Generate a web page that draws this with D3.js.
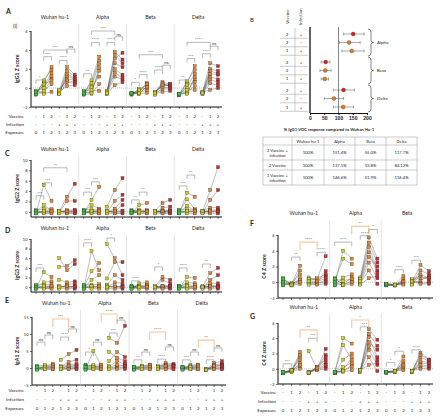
<!DOCTYPE html>
<html><head><meta charset="utf-8">
<script src="https://cdn.jsdelivr.net/npm/d3@7"></script>
<style>body{margin:0;background:#fff}svg{display:block;font-family:Lato,"Liberation Sans",Arial,sans-serif}</style>
</head><body><svg id="c" width="440" height="419"></svg>
<script>
// ---------- shared categories ----------
const variants = ["Wuhan hu-1","Alpha","Beta","Delta"];
const vaccineRow = ["-","1","2","-","1","2"];
const infectionRow = ["-","-","-","+","+","+"];
const exposureRow = ["0","1","2","1","2","3"];
const rowNames = ["Vaccine","Infection","Exposure"];

// ---------- A: IgG1 Z score (per variant, 6 groups) ----------
const igg1Values = [
 [[-0.6,-0.5,-0.4,-0.5,-0.7,-0.3,-0.6,-0.4],[-0.5,0.6,0.2,-0.3,0.8,-0.6,0.4,0.0],[1.0,2.2,1.6,0.4,1.9,-0.4,0.8,1.3],
  [-0.5,-0.4,-0.6,-0.3,-0.5,-0.4,-0.6,-0.2],[1.0,1.8,0.6,2.2,1.3,0.2,1.5,0.8],[0.8,1.2,0.5,1.4,0.9,0.3,1.0,0.6]],
 [[-0.5,-0.6,-0.4,-0.7,-0.5,-0.3,-0.6,-0.5],[-0.4,0.8,0.2,-0.6,0.5,-0.2,0.1,-0.5],[1.8,3.3,2.5,0.4,2.9,-0.3,1.2,2.1],
  [-0.5,-0.4,-0.6,-0.5,-0.3,-0.6,-0.4,-0.5],[2.0,3.8,1.2,3.1,2.6,0.3,1.6,3.5],[1.4,3.0,0.9,3.7,2.2,0.6,1.1,2.6]],
 [[-0.6,-0.5,-0.6,-0.7,-0.5,-0.6,-0.6,-0.5],[-0.6,-0.3,-0.5,-0.1,-0.6,-0.4,-0.2,-0.5],[0.2,0.5,-0.2,0.3,-0.5,0.4,0.0,0.1],
  [-0.6,-0.5,-0.6,-0.4,-0.6,-0.5,-0.7,-0.5],[0.4,0.6,-0.1,0.2,-0.4,0.5,0.1,0.3],[0.2,0.4,-0.1,0.3,-0.3,0.1,0.0,0.4]],
 [[-0.7,-0.6,-0.7,-0.6,-0.7,-0.6,-0.7,-0.6],[-0.5,0.5,0.1,-0.4,0.7,-0.2,0.3,-0.6],[0.9,2.3,1.5,0.2,1.9,-0.2,0.6,1.2],
  [-0.5,-0.4,-0.6,-0.5,-0.5,-0.4,-0.6,-0.5],[1.2,2.6,0.5,2.0,1.5,-0.2,0.9,1.8],[0.9,2.3,0.3,1.8,1.4,0.0,0.6,1.5]]
];
const igg1Brackets = [
 [0,0,1,0.84,"*",0],[0,1,2,3.3,"***",0],[0,1,4,4.0,"***",0],[0,3,4,2.9,"****",0],[0,4,5,4.1,"ns",0],
 [1,0,1,1.5,"**",0],[1,1,2,4.8,"****",0],[1,1,4,6.0,"***",0],[1,3,4,4.8,"****",0],[1,4,5,5.4,"ns",0],
 [2,0,1,0.6,"*",0],[2,1,2,1.4,"****",0],[2,1,4,3.5,"***",0],[2,3,4,1.9,"****",0],[2,4,5,2.4,"ns",0],
 [3,0,1,0.84,"**",0],[3,1,2,3.1,"***",0],[3,1,4,4.8,"****",0],[3,3,4,3.6,"****",0],[3,4,5,4.4,"ns",0]
];

// ---------- C: IgG2 ----------
const igg2Values = [
 [[0.2,-0.3,0.0,-0.2,0.3,-0.1,0.1,-0.3],[0.0,5.2,1.3,-0.2,0.6,0.1,-0.3,0.2],[0.0,2.1,0.3,-0.2,0.5,0.1,-0.3,0.2],
  [0.0,0.1,-0.2,0.2,-0.1,0.0,-0.3,0.1],[0.1,2.9,2.1,-0.2,0.3,0.0,-0.3,0.2],[0.2,5.4,2.1,-0.2,0.4,0.0,-0.3,0.1]],
 [[0.2,-0.3,0.0,-0.2,0.4,-0.1,0.1,-0.3],[0.0,2.3,1.3,-0.2,0.5,0.1,-0.3,0.2],[0.1,4.8,0.6,-0.2,0.3,0.0,-0.3,0.2],
  [0.0,1.0,-0.2,0.2,-0.1,0.0,-0.3,0.1],[0.1,4.2,2.1,-0.2,0.6,0.0,-0.3,0.1],[0.2,6.5,3.3,-0.2,2.3,1.3,-0.3,0.1]],
 [[0.1,-0.3,0.0,-0.2,0.3,-0.1,0.1,-0.3],[0.0,1.3,0.4,-0.2,0.2,0.1,-0.3,0.0],[0.1,1.7,0.3,-0.2,0.2,0.0,-0.3,0.1],
  [0.0,0.1,-0.2,0.2,-0.1,0.0,-0.3,0.1],[0.1,1.7,0.8,-0.2,0.2,0.0,-0.3,0.1],[0.1,2.3,1.0,-0.2,0.3,0.0,-0.3,0.2]],
 [[0.2,-0.3,0.0,-0.2,0.4,-0.1,0.1,-0.3],[0.0,3.7,2.4,1.2,0.5,0.1,-0.3,0.2],[0.1,2.9,0.5,0.2,0.3,0.0,-0.3,0.1],
  [0.0,0.1,-0.2,0.2,-0.1,0.0,-0.3,0.1],[0.1,4.2,2.3,0.8,0.3,0.0,-0.3,0.1],[0.2,8.6,4.2,0.8,0.4,0.0,-0.3,0.1]]
];
const igg2Brackets = [
 [0,0,1,3.1,"***",0],[0,1,2,5.6,"***",0],[0,1,4,8.5,"**",0],[1,0,1,3.8,"***",0],[1,1,2,5.8,"***",0],
 [2,0,1,2.3,"**",0],[2,1,2,3.8,"**",0],[3,0,1,5.0,"***",0],[3,1,2,7.1,"**",0]
];

// ---------- D: IgG3 ----------
const igg3Values = [
 [[0.3,-0.3,0.0,-0.2,0.5,-0.1,0.1,-0.3],[0.0,3.1,1.0,-0.2,0.5,0.1,-0.3,0.2],[0.1,2.1,1.2,-0.2,0.6,0.0,-0.3,0.2],
  [0.0,6.0,4.2,1.5,-0.1,0.3,-0.3,0.1],[0.1,3.5,4.4,1.0,0.5,0.0,-0.3,0.2],[0.2,4.8,5.6,1.2,0.8,0.0,-0.3,0.1]],
 [[0.3,-0.3,0.0,-0.2,0.5,-0.1,0.1,-0.3],[0.0,7.5,3.3,1.5,0.5,0.1,-0.3,0.2],[0.1,3.5,5.0,2.5,0.6,0.0,-0.3,0.2],
  [0.0,8.9,1.8,0.5,-0.1,0.3,-0.3,0.1],[0.1,6.0,5.2,2.5,1.0,0.0,-0.3,0.2],[0.2,2.5,5.2,1.5,0.8,0.0,-0.3,0.1]],
 [[0.2,-0.3,0.0,-0.2,0.3,-0.1,0.1,-0.3],[0.0,0.8,0.3,-0.2,0.2,0.1,-0.3,0.0],[0.1,1.0,0.5,-0.2,0.2,0.0,-0.3,0.1],
  [0.0,0.1,-0.2,0.2,-0.1,0.0,-0.3,0.1],[0.1,2.1,1.5,-0.2,0.3,0.0,-0.3,0.2],[0.1,1.5,0.8,-0.2,0.3,0.0,-0.3,0.2]],
 [[0.2,-0.3,0.0,-0.2,0.3,-0.1,0.1,-0.3],[0.0,2.1,1.0,-0.2,0.5,0.1,-0.3,0.2],[0.1,1.9,0.8,-0.2,0.4,0.0,-0.3,0.1],
  [0.0,0.1,-0.2,0.2,-0.1,0.0,-0.3,0.1],[0.1,2.9,1.5,0.8,0.3,0.0,-0.3,0.2],[0.2,4.0,2.5,0.8,0.3,0.0,-0.3,0.1]]
];
const igg3Brackets = [
 [0,0,1,4.0,"***",0],[1,0,1,9.2,"****",0],[1,3,4,10.2,"*",0],[2,0,1,1.3,"****",0],[2,3,4,4.2,"*",0],
 [3,0,1,4.0,"****",0],[3,3,4,4.8,"**",0]
];

// ---------- E: IgA1 ----------
const iga1Values = [
 [[0.3,-0.4,0.0,-0.3,0.6,-0.1,0.2,-0.5],[0.2,0.5,0.0,-0.3,0.8,-0.1,0.3,-0.4],[0.5,1.2,0.2,-0.3,0.8,0.0,0.4,-0.4],
  [0.0,2.4,0.3,-0.3,0.5,-0.1,0.2,-0.4],[0.4,4.1,1.8,-0.2,1.0,0.0,0.6,-0.3],[0.8,5.3,2.4,-0.2,1.2,0.2,0.5,-0.3]],
 [[0.5,-0.4,1.0,-0.3,0.6,-0.1,0.2,-0.5],[0.2,5.0,0.5,-0.3,0.8,-0.1,0.3,-0.4],[0.5,0.8,0.2,-0.3,1.0,0.0,0.4,-0.4],
  [0.0,8.8,4.7,2.0,0.5,-0.1,0.2,-0.4],[0.4,7.4,3.0,4.7,2.0,0.0,1.0,-0.3],[0.8,12.4,2.0,3.2,1.2,0.2,0.5,-0.3]],
 [[0.2,-0.4,0.0,-0.3,0.4,-0.1,0.2,-0.5],[0.2,0.5,0.0,-0.3,0.6,-0.1,0.3,-0.4],[0.5,1.0,0.2,-0.3,0.8,0.0,0.4,-0.4],
  [0.0,0.4,0.3,-0.3,0.5,-0.1,0.2,-0.4],[0.4,1.5,1.0,-0.2,0.8,0.0,0.6,-0.3],[0.6,1.2,0.8,-0.2,0.9,0.2,0.5,-0.3]],
 [[0.2,-0.4,0.0,-0.3,0.4,-0.1,0.2,-0.5],[0.2,0.8,0.0,-0.3,0.6,-0.1,0.3,-0.4],[0.5,1.0,0.2,-0.3,0.8,0.0,0.4,-0.4],
  [-0.5,-0.4,-0.6,-0.3,-0.5,-0.4,-0.6,-0.5],[0.4,1.5,1.0,-0.2,0.8,0.0,0.6,-0.3],[0.8,2.0,1.2,-0.2,0.9,0.2,0.5,-0.3]]
];
const iga1Brackets = [
 [0,0,1,7.6,"ns",0],[0,1,2,9.7,"ns",0],[0,2,4,14.4,"***",1],[0,3,4,9.1,"****",0],[0,4,5,11.5,"ns",0],
 [1,0,1,4.7,"*",0],[1,1,2,7.6,"ns",0],[1,2,4,15.9,"****",1],[1,3,4,10.3,"***",0],[1,4,5,14.1,"ns",0],
 [2,0,1,2.4,"**",0],[2,1,2,4.7,"ns",0],[2,2,4,10.6,"****",1],[2,3,4,2.6,"****",0],[2,4,5,6.2,"ns",0],
 [3,0,1,2.4,"***",0],[3,1,2,4.7,"ns",0],[3,2,4,8.2,"**",1],[3,3,4,2.4,"****",0],[3,4,5,5.9,"ns",0]
];

// ---------- F: C4 Z score ----------
const c4FValues = [
 [[0.5,-0.2,0.2,-0.4,0.3,0.0,0.4,-0.3],[-0.3,-0.2,-0.4,-0.1,-0.3,-0.4,-0.2,-0.3],[0.2,2.1,1.5,1.0,0.5,-0.2,0.3,0.0],
  [0.6,0.3,0.0,-0.2,0.4,-0.1,0.2,-0.3],[0.2,0.4,0.0,-0.2,0.5,-0.1,0.1,-0.3],[0.8,3.3,1.4,0.3,1.0,0.0,0.5,-0.2]],
 [[0.5,-0.2,0.2,-0.4,0.3,0.0,0.4,-0.3],[-0.3,4.0,3.0,0.6,-0.2,-0.4,0.2,-0.3],[0.2,3.0,2.3,1.0,0.6,-0.2,0.4,0.0],
  [0.6,0.3,0.0,-0.2,0.4,-0.1,0.2,-0.3],[5.7,4.5,3.2,2.5,5.0,1.5,3.8,0.5],[3.0,1.5,2.0,0.5,2.5,-0.2,1.2,0.8]],
 [[-0.3,-0.2,-0.4,-0.3,-0.2,-0.4,-0.3,-0.2],[-0.4,-0.3,-0.4,-0.3,-0.4,-0.3,-0.4,-0.3],[0.0,0.8,0.4,-0.2,0.2,-0.1,0.1,-0.3],
  [0.3,0.0,-0.2,0.4,-0.1,0.2,-0.3,0.1],[0.5,2.2,1.5,0.8,0.2,-0.1,1.0,-0.2],[0.6,1.4,1.0,0.3,0.8,0.0,0.5,-0.2]]
];
const c4FBrackets = [
 [0,1,2,3.2,"**",0],[0,2,4,5.1,"****",1],[0,4,5,3.8,"****",0],
 [1,0,2,5.1,"****",0],[1,2,4,7.1,"**",1],[1,3,4,5.9,"****",0],[1,4,5,6.7,"*",0],
 [2,1,2,1.6,"****",0],[2,3,4,2.8,"***",0]
];

// ---------- G: C4 Z score ----------
const c4GValues = [
 [[-0.5,-0.5,-0.6,-0.4,-0.5,-0.6,-0.5,-0.4],[-0.3,-0.2,-0.4,-0.3,-0.2,-0.4,-0.3,-0.2],[2.2,1.5,0.8,0.3,1.2,0.0,1.8,0.5],
  [-0.5,2.3,-0.4,-0.5,-0.6,-0.4,-0.5,-0.5],[0.2,0.0,0.1,-0.1,0.2,-0.2,0.0,0.1],[1.2,2.6,0.8,0.3,1.8,0.0,0.5,1.5]],
 [[-0.5,-0.4,-0.6,-0.4,-0.5,-0.6,-0.5,-0.4],[4.0,3.1,1.2,-0.3,-0.2,-0.4,0.2,-0.3],[3.3,1.2,2.0,0.5,1.5,-0.2,0.8,0.3],
  [-0.3,-0.3,-0.4,-0.3,-0.2,-0.4,-0.3,-0.2],[5.2,4.2,3.5,2.5,4.6,1.5,3.0,0.5],[3.8,1.5,2.5,0.5,3.0,-0.3,1.2,0.8]],
 [[-0.5,-0.4,-0.5,-0.4,-0.5,-0.4,-0.5,-0.4],[-0.4,-0.3,-0.4,-0.3,-0.4,-0.3,-0.4,-0.3],[1.6,0.8,0.4,0.0,1.0,-0.2,0.3,0.5],
  [-0.4,-0.3,-0.4,-0.3,-0.4,-0.3,-0.4,-0.3],[2.1,1.5,0.8,0.3,1.8,0.0,1.0,0.5],[1.2,1.0,0.6,0.2,1.2,0.0,0.8,0.4]]
];
const c4GBrackets = [
 [0,0,1,0.65,"***",0],[0,2,4,5.1,"**",1],[0,3,4,4.0,"***",0],
 [1,2,4,6.4,"*",1],[1,3,4,5.5,"***",0],
 [2,0,1,0.8,"*",0],[2,1,2,2.3,"*",0],[2,3,4,2.5,"****",0]
];

// ---------- B: forest plot + table ----------
const forestVaccine = ["2","2","1","2","2","1","2","2","1"];
const forestInfection = ["+","-","+","+","-","+","+","-","+"];
const forestMean = [151.4,137.1,146.6,55.0,53.8,51.9,117.7,84.1,116.4];
const forestLow = [118,104,112,39,35,39,82,50,82];
const forestHigh = [190,176,190,70,74,65,156,118,153];
const forestGroups = ["Alpha","Beta","Delta"];
const forestTicks = [0,50,100,150,200];
const tableHeader = ["","Wuhan hu-1","Alpha","Beta","Delta"];
const tableRowLabels = [["2 Vaccine +","infection"],["2 Vaccine"],["1 Vaccine +","infection"]];
const tableValues = [["100%","151.4%","55.0%","117.7%"],["100%","137.1%","53.8%","84.12%"],["100%","146.6%","51.9%","116.4%"]];

// ================= drawing =================
const svg = d3.select("#c");
const fillOf = {"0":"#3cc83c","1":"#d2d21e","2":"#e8862c","3":"#d22828"};

function dotPanel(p){
  const g = svg.append("g");
  const y = d3.scaleLinear().domain(p.domain).range(p.yRange);
  const nSub = p.data.length;
  const w = (p.x1 - p.x0) / nSub;
  const yB = p.yRange[0], yT = p.yRange[1];
  // zero line
  g.append("line").attr("x1",p.x0).attr("x2",p.x1).attr("y1",y(0)).attr("y2",y(0))
    .attr("stroke","#888").attr("stroke-width",0.5).attr("stroke-dasharray","1,1");
  // y axis
  const ax = g.append("g").attr("transform",`translate(${p.x0},0)`)
    .call(d3.axisLeft(y).tickValues(p.ticks).tickSize(2).tickPadding(1.5));
  ax.select(".domain").attr("stroke","#111").attr("stroke-width",1).attr("d",`M0,${yT}V${yB}`);
  ax.selectAll(".tick line").attr("stroke","#111").attr("stroke-width",0.6);
  ax.selectAll("text").attr("font-size",4).attr("fill","#222").attr("font-family","Lato, sans-serif");
  // bottom axis
  g.append("line").attr("x1",p.x0).attr("x2",p.x1).attr("y1",yB).attr("y2",yB).attr("stroke","#111").attr("stroke-width",1);
  // y label
  g.append("text").attr("transform",`translate(${p.yLabelX},${(yT+yB)/2}) rotate(-90)`)
    .attr("text-anchor","middle").attr("font-size",5.2).attr("font-weight","bold").attr("fill","#222").text(p.yLabel);
  // letter
  g.append("text").attr("x",p.letter[0]).attr("y",p.letter[1]).attr("font-size",7).attr("font-weight","bold").attr("fill","#222").text(p.letter[2]);

  p.data.forEach((cols, si) => {
    const s0 = p.x0 + si*w;
    const xs = d3.scalePoint().domain(d3.range(6)).range([s0+5, s0+w-4]);
    // title
    g.append("text").attr("x",s0+w/2).attr("y",p.titleY).attr("text-anchor","middle")
      .attr("font-size",5.2).attr("fill","#222").text(variants[si]);
    if (si>0) g.append("line").attr("x1",s0).attr("x2",s0).attr("y1",p.titleY+5).attr("y2",yB)
      .attr("stroke","#d0d0d0").attr("stroke-width",0.6);
    // x ticks
    d3.range(6).forEach(c => g.append("line").attr("x1",xs(c)).attr("x2",xs(c)).attr("y1",yB).attr("y2",yB+2)
      .attr("stroke","#111").attr("stroke-width",0.6));
    // paired lines
    [0,3].forEach(t => {
      cols[t].forEach((v,i) => {
        const pts = [t,t+1,t+2].map(c => [xs(c), y(cols[c][i])]);
        g.append("path").attr("d", d3.line()(pts)).attr("fill","none")
          .attr("stroke","#444").attr("stroke-width",0.45).attr("stroke-opacity",0.8);
      });
    });
    // points
    cols.forEach((vals,c) => {
      vals.forEach(v => {
        g.append("rect").attr("x",xs(c)-1.5).attr("y",y(v)-1.5).attr("width",3).attr("height",3)
          .attr("fill",fillOf[exposureRow[c]]).attr("stroke","#333").attr("stroke-width",0.35);
      });
    });
    // brackets
    p.brackets.filter(b => b[0]===si).forEach(b => {
      const xa = xs(b[1]), xb = xs(b[2]), yy = y(b[3]);
      const orange = b[5]===1;
      const leg = orange ? 8 : 4;
      g.append("path").attr("d",`M${xa},${yy+leg}V${yy}H${xb}V${yy+leg}`).attr("fill","none")
        .attr("stroke", orange ? "#f5c8a0" : "#8a8a8a").attr("stroke-width", orange ? 1.1 : 0.6);
      g.append("text").attr("x",(xa+xb)/2).attr("y",yy-1).attr("text-anchor","middle")
        .attr("font-size",4.3).attr("fill","#222").text(b[4]);
    });
    // rows
    if (p.rowsY) {
      [vaccineRow, infectionRow, exposureRow].forEach((row, r) => {
        row.forEach((t,c) => g.append("text").attr("x",xs(c)).attr("y",p.rowsY[r]).attr("text-anchor","middle")
          .attr("font-size",4.3).attr("fill","#222").text(t));
      });
    }
  });
  if (p.rowsY) rowNames.forEach((n,r) => g.append("text").attr("x",p.rowLabelX).attr("y",p.rowsY[r])
      .attr("text-anchor","end").attr("font-size",4.6).attr("fill","#222").text(n));
}

dotPanel({data:igg1Values, brackets:igg1Brackets, x0:31, x1:222, domain:[-2,6], yRange:[107,31], ticks:[-2,0,2,4,6],
  titleY:19, yLabel:"IgG1 Z score", yLabelX:19, letter:[6,14,"A"], rowsY:[118,126,134], rowLabelX:24});
svg.append("text").attr("x",13).attr("y",28).attr("font-size",5.5).attr("fill","#222").text("(i)");
dotPanel({data:igg2Values, brackets:igg2Brackets, x0:31, x1:222, domain:[-1,10], yRange:[217,160], ticks:[0,2,4,6,8,10],
  titleY:151, yLabel:"IgG2 Z score", yLabelX:19, letter:[5,156,"C"]});
dotPanel({data:igg3Values, brackets:igg3Brackets, x0:31, x1:222, domain:[-1,10], yRange:[292,239], ticks:[0,2,4,6,8,10],
  titleY:230, yLabel:"IgG3 Z score", yLabelX:19, letter:[5,233,"D"]});
dotPanel({data:iga1Values, brackets:iga1Brackets, x0:32, x1:226, domain:[-5,15], yRange:[385,317], ticks:[-5,0,5,10,15],
  titleY:305, yLabel:"IgA1 Z score", yLabelX:19, letter:[5,303,"E"], rowsY:[392,401,410], rowLabelX:24});
dotPanel({data:c4FValues, brackets:c4FBrackets, x0:278, x1:433, domain:[-2,6], yRange:[298,235], ticks:[-2,0,2,4,6],
  titleY:215, yLabel:"C4 Z score", yLabelX:266, letter:[250,226,"F"]});
dotPanel({data:c4GValues, brackets:c4GBrackets, x0:278, x1:433, domain:[-2,6], yRange:[384,323], ticks:[-2,0,2,4,6],
  titleY:309, yLabel:"C4 Z score", yLabelX:266, letter:[250,319,"G"], rowsY:[394,403,412], rowLabelX:276});

// ----- B forest -----
(function(){
  const g = svg.append("g");
  const x = d3.scaleLinear().domain([0,200]).range([310,367]);
  const slots = forestMean.map((d,i) => i + Math.floor(i/3)*0.3);
  const y = d3.scaleLinear().domain([0,8.6]).range([34,107]);
  g.append("text").attr("x",250).attr("y",22).attr("font-size",6).attr("fill","#222").text("B");
  g.append("text").attr("transform","translate(289,24) rotate(-90)").attr("font-size",4.3).attr("fill","#222").text("Vaccine");
  g.append("text").attr("transform","translate(302,25) rotate(-90)").attr("font-size",4.3).attr("fill","#222").text("Infection");
  g.append("line").attr("x1",295).attr("x2",295).attr("y1",28).attr("y2",111).attr("stroke","#999").attr("stroke-width",0.5);
  forestMean.forEach((m,i) => {
    const yy = y(slots[i]);
    g.append("text").attr("x",287).attr("y",yy+1.5).attr("text-anchor","middle").attr("font-size",4.5).attr("fill","#222").text(forestVaccine[i]);
    g.append("text").attr("x",301).attr("y",yy+1.5).attr("text-anchor","middle").attr("font-size",4.5).attr("fill","#222").text(forestInfection[i]);
    g.append("line").attr("x1",280).attr("x2",308).attr("y1",yy+4.3).attr("y2",yy+4.3).attr("stroke","#999").attr("stroke-width",0.5);
  });
  // ref line and axes
  g.append("line").attr("x1",x(100)).attr("x2",x(100)).attr("y1",27).attr("y2",113).attr("stroke","#333").attr("stroke-width",0.6);
  const ax = g.append("g").attr("transform","translate(0,113)").call(d3.axisBottom(x).tickValues(forestTicks).tickSize(2).tickPadding(1));
  ax.select(".domain").attr("stroke","#111").attr("stroke-width",1);
  ax.selectAll(".tick line").attr("stroke","#111");
  ax.selectAll("text").attr("font-size",5).attr("font-weight","bold").attr("fill","#222");
  g.append("line").attr("x1",310).attr("x2",310).attr("y1",27).attr("y2",113).attr("stroke","#111").attr("stroke-width",1.3);
  forestMean.forEach((m,i) => {
    const yy = y(slots[i]);
    g.append("path").attr("d",`M${x(forestLow[i])},${yy-1.5}V${yy+1.5}M${x(forestLow[i])},${yy}H${x(forestHigh[i])}M${x(forestHigh[i])},${yy-1.5}V${yy+1.5}`)
      .attr("stroke","#555").attr("stroke-width",0.5).attr("fill","none");
    g.append("circle").attr("cx",x(m)).attr("cy",yy).attr("r",2)
      .attr("fill", i%3===0 ? "#d42020" : "#e07a20").attr("stroke","#333").attr("stroke-width",0.3);
  });
  forestGroups.forEach((name,k) => {
    const ya = y(slots[k*3]) - 5, yb = y(slots[k*3+2]) + 5, ym = (ya+yb)/2, bx = 368;
    g.append("path").attr("d",`M${bx},${ya}q3,0 3,3V${ym-2}q0,2 2.5,2q-2.5,0 -2.5,2V${yb-3}q0,3 -3,3`)
      .attr("fill","none").attr("stroke","#333").attr("stroke-width",0.6);
    g.append("text").attr("x",377).attr("y",ym+1.5).attr("font-size",4.5).attr("fill","#222").text(name);
  });
  g.append("text").attr("x",329).attr("y",131).attr("text-anchor","middle").attr("font-size",4.2).attr("font-weight","bold")
    .attr("fill","#222").text("% IgG1 VOC response compared to Wuhan Hu-1");
  // table
  const colEdges = [263,292,324,355,386,417];
  const rowEdges = [137,145,160,170,185];
  const tg = g.append("g");
  tg.append("rect").attr("x",colEdges[0]).attr("y",rowEdges[0]).attr("width",colEdges[5]-colEdges[0]).attr("height",rowEdges[4]-rowEdges[0])
    .attr("fill","none").attr("stroke","#999").attr("stroke-width",0.5);
  colEdges.slice(1,5).forEach(cx => tg.append("line").attr("x1",cx).attr("x2",cx).attr("y1",rowEdges[0]).attr("y2",rowEdges[4]).attr("stroke","#999").attr("stroke-width",0.5));
  rowEdges.slice(1,4).forEach(ry => tg.append("line").attr("x1",colEdges[0]).attr("x2",colEdges[5]).attr("y1",ry).attr("y2",ry).attr("stroke","#999").attr("stroke-width",0.5));
  const cxm = i => (colEdges[i]+colEdges[i+1])/2, cym = r => (rowEdges[r]+rowEdges[r+1])/2;
  tableHeader.forEach((h,i) => tg.append("text").attr("x",cxm(i)).attr("y",cym(0)+1.5).attr("text-anchor","middle").attr("font-size",4.2).attr("fill","#222").text(h));
  tableRowLabels.forEach((lines,r) => {
    lines.forEach((t,li) => tg.append("text").attr("x",cxm(0)).attr("y",cym(r+1)+1.5+(li-(lines.length-1)/2)*5)
      .attr("text-anchor","middle").attr("font-size",4.2).attr("fill","#222").text(t));
    tableValues[r].forEach((v,c) => tg.append("text").attr("x",cxm(c+1)).attr("y",cym(r+1)+1.5).attr("text-anchor","middle")
      .attr("font-size",4.2).attr("fill","#222").text(v));
  });
})();
</script></body></html>
